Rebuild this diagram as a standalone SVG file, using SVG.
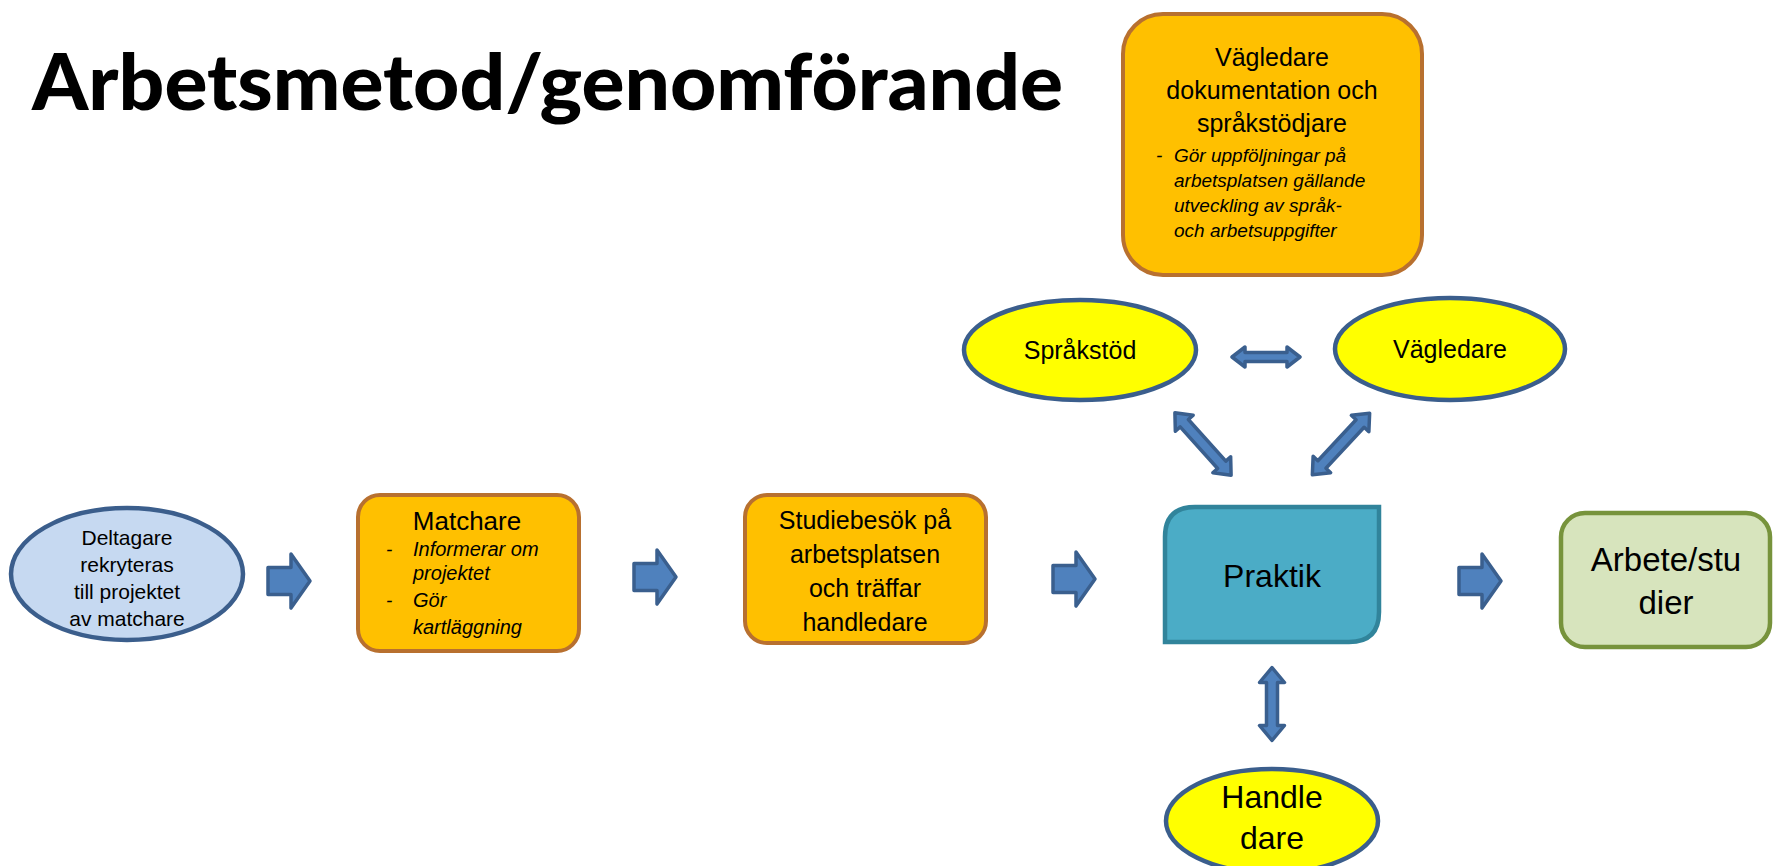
<svg xmlns="http://www.w3.org/2000/svg" xmlns:xlink="http://www.w3.org/1999/xlink" width="1773" height="866" viewBox="0 0 1773 866">
<style>
.t{font-family:"Liberation Sans",Arial,sans-serif;fill:#000;text-anchor:middle}
.i{font-family:"Liberation Sans",Arial,sans-serif;font-style:italic;fill:#000}
.org{fill:#FFC000;stroke:#B8702F;stroke-width:4}
.yel{fill:#FFFF00;stroke:#3B5E8C;stroke-width:4.5}
.arr{fill:#4F81BD;stroke:#3A5F8E;stroke-width:3.5;stroke-linejoin:round}
</style>
<defs>
<path id="rarrow" d="M-21,-13.5 H2 V-27 L21,0 L2,27 V13.5 H-21 Z"/>
</defs>
<rect width="1773" height="866" fill="#fff"/>
<text x="32" y="110" font-family="Lato, 'Liberation Sans', sans-serif" font-weight="900" font-size="78" textLength="1031" lengthAdjust="spacingAndGlyphs">Arbetsmetod/genomförande</text>

<g id="connectors">
<use xlink:href="#rarrow" class="arr" transform="translate(289,581)"/>
<use xlink:href="#rarrow" class="arr" transform="translate(655,577)"/>
<use xlink:href="#rarrow" class="arr" transform="translate(1074,579)"/>
<use xlink:href="#rarrow" class="arr" transform="translate(1480,581)"/>
<path class="arr" transform="translate(1266,357)" d="M-34,0 L-21,-10 L-21,-4.5 L21,-4.5 L21,-10 L34,0 L21,10 L21,4.5 L-21,4.5 L-21,10 Z"/>
<path class="arr" transform="translate(1203,444) rotate(48)" d="M-42,0 L-28,-12 L-28,-5.5 L28,-5.5 L28,-12 L42,0 L28,12 L28,5.5 L-28,5.5 L-28,12 Z"/>
<path class="arr" transform="translate(1341,444) rotate(-47)" d="M-42,0 L-28,-12 L-28,-5.5 L28,-5.5 L28,-12 L42,0 L28,12 L28,5.5 L-28,5.5 L-28,12 Z"/>
<path class="arr" transform="translate(1272,704) rotate(90)" d="M-36.5,0 L-21.5,-12.5 L-21.5,-5.5 L21.5,-5.5 L21.5,-12.5 L36.5,0 L21.5,12.5 L21.5,5.5 L-21.5,5.5 L-21.5,12.5 Z"/>
</g>

<g id="node-vagledare-dok">
<rect class="org" x="1123" y="14" width="299" height="261" rx="40"/>
<text class="t" x="1272" y="66" font-size="25">Vägledare</text>
<text class="t" x="1272" y="99" font-size="25">dokumentation och</text>
<text class="t" x="1272" y="132" font-size="25">språkstödjare</text>
<text class="i" x="1156" y="162" font-size="19">-</text>
<text class="i" font-size="19"><tspan x="1174" y="162">Gör uppföljningar på</tspan><tspan x="1174" y="187">arbetsplatsen gällande</tspan><tspan x="1174" y="212">utveckling av språk-</tspan><tspan x="1174" y="237">och arbetsuppgifter</tspan></text>
</g>

<g id="node-sprakstod">
<ellipse class="yel" cx="1080" cy="350" rx="116" ry="50"/>
<text class="t" x="1080" y="359" font-size="25">Språkstöd</text>
</g>

<g id="node-vagledare">
<ellipse class="yel" cx="1450" cy="349" rx="115" ry="51"/>
<text class="t" x="1450" y="358" font-size="25">Vägledare</text>
</g>

<g id="node-deltagare">
<ellipse cx="127" cy="574" rx="116" ry="66" fill="#C6D9F1" stroke="#3B5E8C" stroke-width="4.5"/>
<text class="t" font-size="21"><tspan x="127" y="545">Deltagare</tspan><tspan x="127" y="572">rekryteras</tspan><tspan x="127" y="599">till projektet</tspan><tspan x="127" y="626">av matchare</tspan></text>
</g>

<g id="node-matchare">
<rect class="org" x="358" y="495" width="221" height="156" rx="22"/>
<text class="t" x="467" y="530" font-size="26">Matchare</text>
<text class="i" font-size="19"><tspan x="386" y="556">-</tspan><tspan x="386" y="607">-</tspan></text>
<text class="i" font-size="20"><tspan x="413" y="556">Informerar om</tspan><tspan x="413" y="580">projektet</tspan><tspan x="413" y="607">Gör</tspan><tspan x="413" y="634">kartläggning</tspan></text>
</g>

<g id="node-studiebesok">
<rect class="org" x="745" y="495" width="241" height="148" rx="22"/>
<text class="t" font-size="25"><tspan x="865" y="529">Studiebesök på</tspan><tspan x="865" y="563">arbetsplatsen</tspan><tspan x="865" y="597">och träffar</tspan><tspan x="865" y="631">handledare</tspan></text>
</g>

<g id="node-praktik">
<path d="M1165,642 V537 Q1165,507 1195,507 H1379 V612 Q1379,642 1349,642 Z" fill="#4BACC6" stroke="#31849B" stroke-width="4.5"/>
<text class="t" x="1272" y="587" font-size="32">Praktik</text>
</g>

<g id="node-arbete">
<rect x="1561" y="513" width="209" height="134" rx="24" fill="#D7E4BD" stroke="#77933C" stroke-width="4.5"/>
<text class="t" font-size="33"><tspan x="1666" y="571">Arbete/stu</tspan><tspan x="1666" y="614">dier</tspan></text>
</g>

<g id="node-handledare">
<ellipse class="yel" cx="1272" cy="821" rx="106" ry="52"/>
<text class="t" font-size="32"><tspan x="1272" y="808">Handle</tspan><tspan x="1272" y="849">dare</tspan></text>
</g>
</svg>
